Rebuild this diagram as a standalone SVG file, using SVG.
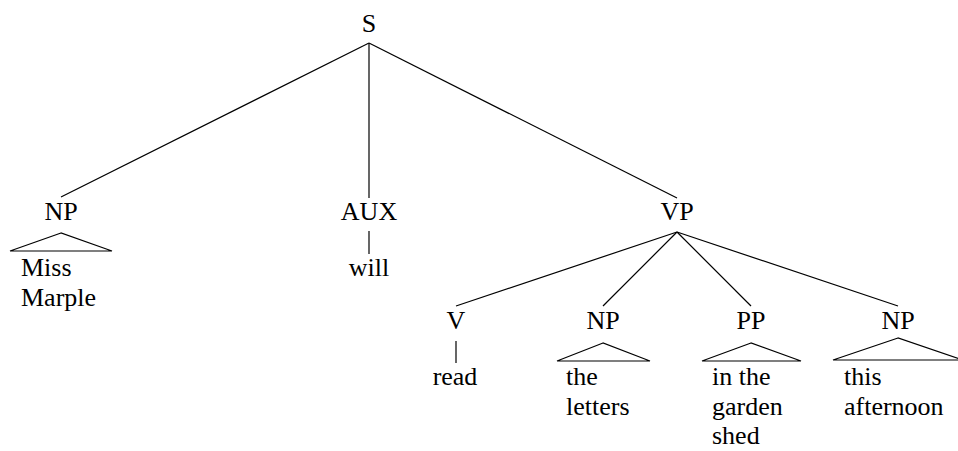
<svg xmlns="http://www.w3.org/2000/svg" width="958" height="451" viewBox="0 0 958 451">
<style>
.c{text-anchor:middle}
line{stroke:#000;stroke-width:1.2;fill:none}
.tri{fill:none;stroke:#000;stroke-width:1.2}
</style>
<rect width="958" height="451" fill="#fff"/>
<g id="connectors">
<line x1="369" y1="43" x2="61" y2="197"/>
<line x1="369" y1="43" x2="369" y2="198"/>
<line x1="369" y1="43" x2="677" y2="198"/>
<line x1="677" y1="232" x2="456" y2="306"/>
<line x1="677" y1="232" x2="603" y2="306"/>
<line x1="677" y1="232" x2="751" y2="306"/>
<line x1="677" y1="232" x2="898" y2="306"/>
<line x1="369" y1="231" x2="369" y2="254"/>
<line x1="456" y1="341" x2="456" y2="363"/>
</g>
<g id="S"><text class="c" x="369" y="32" font-size="26" font-family="'Liberation Serif'">S</text></g>
<g id="NP1">
<text class="c" x="61" y="220" font-size="26" font-family="'Liberation Serif'">NP</text>
<polygon class="tri" points="61,233 10,251 112,251"/>
<text x="21" y="276" font-size="26" font-family="'Liberation Serif'">Miss</text>
<text x="21" y="306" font-size="26" font-family="'Liberation Serif'">Marple</text>
</g>
<g id="AUX">
<text class="c" x="369" y="220" font-size="26" font-family="'Liberation Serif'">AUX</text>
<text class="c" x="369" y="276" font-size="26" font-family="'Liberation Serif'">will</text>
</g>
<g id="VP"><text class="c" x="677" y="220" font-size="26" font-family="'Liberation Serif'">VP</text></g>
<g id="V">
<text class="c" x="456" y="329" font-size="26" font-family="'Liberation Serif'">V</text>
<text class="c" x="455" y="385" font-size="26" font-family="'Liberation Serif'">read</text>
</g>
<g id="NP2">
<text class="c" x="603" y="329" font-size="26" font-family="'Liberation Serif'">NP</text>
<polygon class="tri" points="603,343 557,361 650,361"/>
<text x="566" y="385" font-size="26" font-family="'Liberation Serif'">the</text>
<text x="566" y="415" font-size="26" font-family="'Liberation Serif'">letters</text>
</g>
<g id="PP">
<text class="c" x="751" y="329" font-size="26" font-family="'Liberation Serif'">PP</text>
<polygon class="tri" points="751,343 702,361 801,361"/>
<text x="712" y="385" font-size="26" font-family="'Liberation Serif'">in the</text>
<text x="712" y="415" font-size="26" font-family="'Liberation Serif'">garden</text>
<text x="712" y="444" font-size="26" font-family="'Liberation Serif'">shed</text>
</g>
<g id="NP3">
<text class="c" x="898" y="329" font-size="26" font-family="'Liberation Serif'">NP</text>
<polygon class="tri" points="898,338 833,360 963,360"/>
<text x="844" y="385" font-size="26" font-family="'Liberation Serif'">this</text>
<text x="844" y="415" font-size="26" font-family="'Liberation Serif'">afternoon</text>
</g>
</svg>
